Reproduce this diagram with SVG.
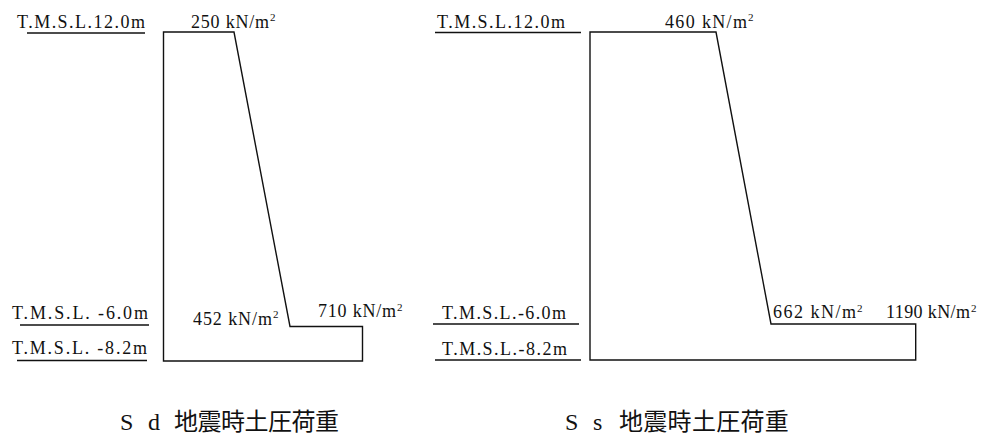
<svg xmlns="http://www.w3.org/2000/svg" width="990" height="447" viewBox="0 0 990 447">
<style>
.lbl{font-family:'Liberation Serif','DejaVu Serif',serif;font-size:18px;fill:#111}
.sup{font-size:11px}
.ttl{font-family:'Liberation Serif','DejaVu Serif','Noto Sans CJK JP',serif;font-size:24px;fill:#111}
.ul{stroke:#111;stroke-width:1.5;fill:none}
.shape{stroke:#111;stroke-width:1.4;fill:none;stroke-linejoin:miter}
</style>
<rect width="990" height="447" fill="#fff"/>
<g id="sd-diagram">
  <path class="shape" d="M163.5,32 L234,32 L290,326.5 L362.5,326.5 L362.5,361 L163.5,361 Z"/>
  <text class="lbl" x="191" y="27.5" textLength="78" lengthAdjust="spacing">250 kN/m</text>
  <text class="lbl sup" x="270" y="21">2</text>
  <text class="lbl" x="193" y="324.5" textLength="79" lengthAdjust="spacing">452 kN/m</text>
  <text class="lbl sup" x="273" y="318">2</text>
  <text class="lbl" x="318" y="317" textLength="78" lengthAdjust="spacing">710 kN/m</text>
  <text class="lbl sup" x="397" y="310.5">2</text>
</g>
<g id="sd-levels">
  <text class="lbl" x="17" y="27.5" textLength="128" lengthAdjust="spacing">T.M.S.L.12.0m</text>
  <line class="ul" x1="27" y1="33" x2="145" y2="33"/>
  <text class="lbl" x="12" y="318.5" textLength="136" lengthAdjust="spacing">T.M.S.L.  -6.0m</text>
  <line class="ul" x1="20" y1="325" x2="149" y2="325"/>
  <text class="lbl" x="12" y="354" textLength="135" lengthAdjust="spacing">T.M.S.L.  -8.2m</text>
  <line class="ul" x1="17" y1="360.5" x2="147" y2="360.5"/>
</g>
<g id="ss-diagram">
  <path class="shape" d="M590,32 L716,32 L771,324 L915.7,324 L915.7,360 L590,360 Z"/>
  <text class="lbl" x="665" y="27.5" textLength="82" lengthAdjust="spacing">460 kN/m</text>
  <text class="lbl sup" x="748" y="21">2</text>
  <text class="lbl" x="773" y="318" textLength="83" lengthAdjust="spacing">662 kN/m</text>
  <text class="lbl sup" x="857" y="311.5">2</text>
  <text class="lbl" x="886" y="318" textLength="84" lengthAdjust="spacing">1190 kN/m</text>
  <text class="lbl sup" x="971" y="311.5">2</text>
</g>
<g id="ss-levels">
  <text class="lbl" x="437" y="27.5" textLength="128" lengthAdjust="spacing">T.M.S.L.12.0m</text>
  <line class="ul" x1="435" y1="32.5" x2="581" y2="32.5"/>
  <text class="lbl" x="442" y="319" textLength="124" lengthAdjust="spacing">T.M.S.L.-6.0m</text>
  <line class="ul" x1="433" y1="324" x2="579" y2="324"/>
  <text class="lbl" x="442" y="355" textLength="125" lengthAdjust="spacing">T.M.S.L.-8.2m</text>
  <line class="ul" x1="435" y1="360" x2="581" y2="360"/>
</g>
<g id="titles">
  <text class="ttl" x="120 135 148 162 174 197.5 221 244.5 268 291.5 315" y="430">S d 地震時土圧荷重</text>
  <text class="ttl" x="565 580 593 607 619 643.3 667.6 691.9 716.2 740.5 764.8" y="430">S s 地震時土圧荷重</text>
</g>
</svg>
